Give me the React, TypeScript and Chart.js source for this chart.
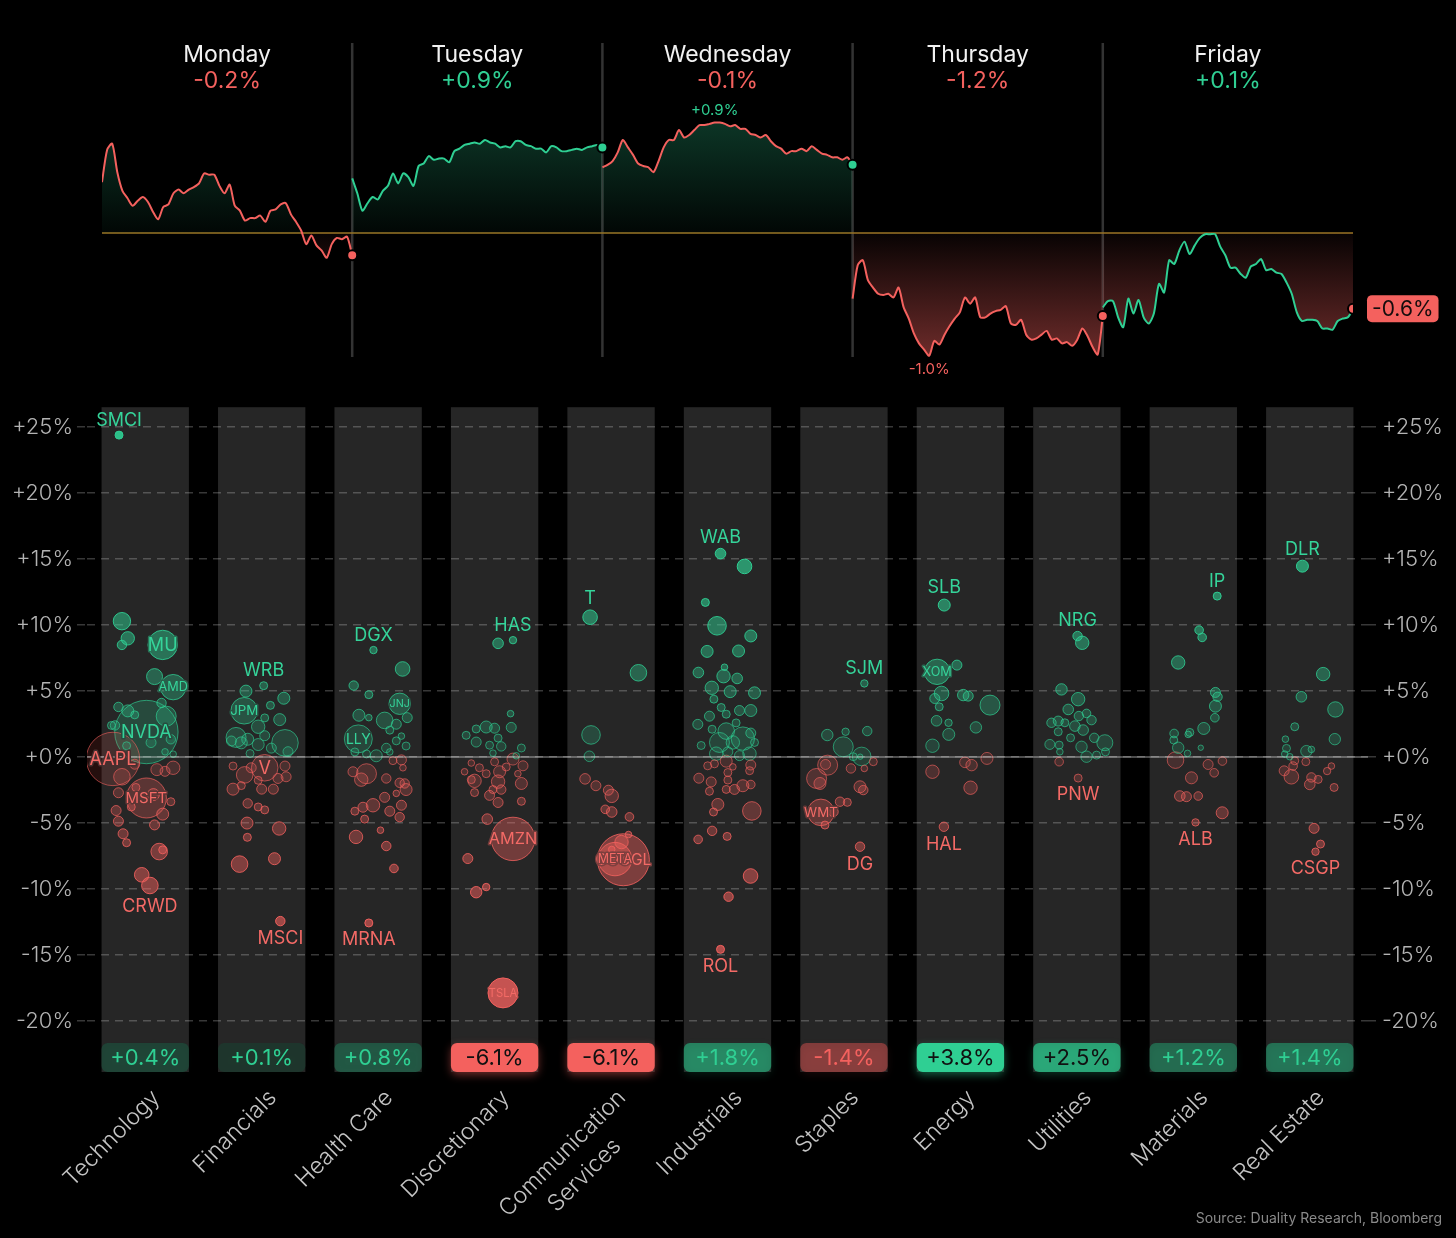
import { useEffect, useRef } from 'react';
import { Chart, registerables } from 'chart.js';

Chart.register(...registerables);

const GREEN = '#2fcf93';
const RED = '#f4615e';
const FONT = 'Inter, "Noto Sans", "DejaVu Sans", sans-serif';

// ---------- weekly index path (cumulative % vs prior close) ----------
const DAYS = ['Monday', 'Tuesday', 'Wednesday', 'Thursday', 'Friday'];
const DAY_CHANGES = [-0.2, 0.9, -0.1, -1.2, 0.1];

const MONDAY = [0.41, 0.67, 0.72, 0.49, 0.34, 0.28, 0.22, 0.26, 0.29, 0.25, 0.17, 0.11, 0.21, 0.23, 0.32, 0.35, 0.32, 0.35, 0.37, 0.40, 0.48, 0.47, 0.47, 0.38, 0.32, 0.39, 0.22, 0.18, 0.10, 0.12, 0.12, 0.14, 0.09, 0.18, 0.19, 0.23, 0.24, 0.15, 0.09, 0.02, -0.09, -0.02, -0.10, -0.14, -0.20, -0.09, -0.04, -0.05, -0.03, -0.18];
const TUESDAY = [0.44, 0.32, 0.18, 0.24, 0.29, 0.27, 0.34, 0.38, 0.48, 0.40, 0.48, 0.45, 0.38, 0.54, 0.56, 0.62, 0.59, 0.60, 0.60, 0.57, 0.66, 0.68, 0.71, 0.72, 0.73, 0.72, 0.75, 0.73, 0.72, 0.69, 0.70, 0.69, 0.74, 0.74, 0.71, 0.70, 0.68, 0.68, 0.65, 0.70, 0.69, 0.66, 0.66, 0.67, 0.68, 0.67, 0.69, 0.70, 0.71, 0.69];
const WEDNESDAY = [0.53, 0.55, 0.58, 0.65, 0.75, 0.69, 0.63, 0.56, 0.54, 0.53, 0.49, 0.58, 0.69, 0.75, 0.75, 0.83, 0.77, 0.79, 0.83, 0.87, 0.87, 0.88, 0.89, 0.89, 0.88, 0.86, 0.87, 0.84, 0.84, 0.80, 0.79, 0.77, 0.79, 0.74, 0.70, 0.68, 0.64, 0.66, 0.66, 0.68, 0.66, 0.70, 0.67, 0.64, 0.63, 0.61, 0.61, 0.59, 0.61, 0.55];
const THURSDAY = [-0.53, -0.26, -0.22, -0.38, -0.44, -0.49, -0.50, -0.49, -0.52, -0.44, -0.60, -0.69, -0.81, -0.89, -0.94, -0.99, -0.87, -0.90, -0.82, -0.75, -0.69, -0.64, -0.52, -0.57, -0.52, -0.68, -0.68, -0.65, -0.63, -0.62, -0.59, -0.73, -0.74, -0.70, -0.82, -0.86, -0.85, -0.82, -0.79, -0.86, -0.85, -0.89, -0.88, -0.91, -0.86, -0.77, -0.83, -0.92, -0.98, -0.67];
const FRIDAY = [-0.60, -0.55, -0.55, -0.68, -0.76, -0.53, -0.65, -0.54, -0.68, -0.73, -0.65, -0.41, -0.48, -0.22, -0.25, -0.14, -0.07, -0.17, -0.10, -0.04, -0.01, -0.01, -0.01, -0.11, -0.18, -0.28, -0.28, -0.33, -0.36, -0.27, -0.25, -0.21, -0.30, -0.29, -0.32, -0.33, -0.40, -0.49, -0.64, -0.71, -0.70, -0.70, -0.71, -0.77, -0.77, -0.78, -0.71, -0.69, -0.68, -0.61];

// ---------- sectors ----------
const SECTORS = ['Technology', 'Financials', 'Health Care', 'Discretionary', 'Communication\nServices', 'Industrials', 'Staples', 'Energy', 'Utilities', 'Materials', 'Real Estate'];
const SECTOR_CHANGES = [0.4, 0.1, 0.8, -6.1, -6.1, 1.8, -1.4, 3.8, 2.5, 1.2, 1.4];
const Y_TICKS = [-20, -15, -10, -5, 0, 5, 10, 15, 20, 25];

// [jitter within column, weekly % change, bubble radius, ticker, label placement]
type Bubble = [number, number, number, string?, string?];

const TECHNOLOGY: Bubble[] = [
  [-0.225, 24.4, 4, 'SMCI', 'up'], [-0.2, 10.3, 8.7], [-0.15, 9.0, 6.7], [-0.2, 8.5, 4.7],
  [0.15, 8.5, 14.7, 'MU', 'in'], [0.08, 6.1, 8], [0.24, 5.3, 12.7, 'AMD', 'in'], [-0.23, 3.8, 4.7],
  [-0.15, 3.5, 6], [-0.09, 3.2, 4], [0.14, 4.1, 4.7], [0.18, 3.1, 10], [-0.26, 2.4, 4.7],
  [-0.29, 2.4, 4], [0.01, 1.9, 31.7, 'NVDA', 'in'], [0.05, 1.1, 5], [0.22, 1.35, 4.7],
  [-0.16, 0.86, 4], [0.17, 0.4, 3.3], [0.24, 0.22, 3.3], [-0.277, -0.14, 26.7, 'AAPL', 'in'],
  [-0.09, -0.54, 5], [0.1, -0.95, 6], [0.17, -1.08, 5], [0.24, -0.81, 6.7], [-0.2, -1.49, 8.3],
  [-0.08, -2.3, 4], [0.01, -3.1, 20, 'MSFT', 'in'], [-0.23, -2.7, 5], [0.07, -2.84, 6],
  [-0.12, -3.78, 4], [0.22, -3.38, 4], [-0.25, -4.05, 5], [0.15, -4.32, 6], [0.08, -5.14, 5],
  [-0.23, -4.86, 5], [-0.19, -5.81, 5], [-0.16, -6.49, 4], [0.12, -7.16, 8.3], [0.15, -7.03, 4],
  [-0.03, -8.92, 7.3], [0.04, -9.73, 8.3, 'CRWD', 'down'],
];
const FINANCIALS: Bubble[] = [
  [0.017, 5.41, 4, 'WRB', 'up'], [-0.135, 5.0, 6], [0.19, 4.46, 6], [-0.15, 3.51, 13.3, 'JPM', 'in'],
  [0.075, 3.92, 4], [0.026, 2.97, 4], [0.155, 2.84, 6], [-0.03, 2.3, 6.7], [-0.22, 1.49, 10],
  [-0.12, 1.35, 6], [0.026, 1.62, 5], [0.2, 1.08, 13.3], [-0.175, 1.08, 6], [-0.26, 1.22, 5],
  [-0.03, 0.95, 6], [0.083, 0.68, 5], [-0.1, 0.27, 4], [0.226, 0.41, 5], [0.026, -0.81, 13.3, 'V', 'in'],
  [-0.246, -0.68, 4], [-0.146, -1.35, 8.3], [-0.09, -0.81, 5], [0.2, -0.68, 5], [0.21, -1.49, 5],
  [0.14, -1.62, 5], [-0.03, -1.76, 4], [-0.246, -2.43, 6], [-0.175, -2.16, 4], [0.0, -2.43, 5],
  [0.1, -2.43, 5], [-0.12, -3.51, 4.7], [-0.03, -3.78, 4], [0.026, -4.0, 4], [-0.126, -5.0, 6],
  [-0.123, -6.08, 4], [0.15, -5.41, 6.7], [-0.19, -8.11, 8.3], [0.11, -7.7, 6], [0.16, -12.43, 4.7, 'MSCI', 'down'],
];
const HEALTH_CARE: Bubble[] = [
  [-0.04, 8.11, 3.7, 'DGX', 'up'], [0.21, 6.68, 7.3], [-0.21, 5.42, 4.7], [-0.08, 4.73, 4],
  [0.185, 4.04, 10.7, 'JNJ', 'in'], [0.056, 2.78, 8.3], [-0.165, 3.17, 6], [-0.08, 2.99, 3.3],
  [-0.17, 1.38, 14, 'LLY', 'in'], [0.25, 2.99, 5], [0.156, 2.49, 5], [0.1, 2.04, 4], [0.2, 1.59, 3.3],
  [0.156, 1.23, 4], [0.24, 0.84, 4], [0.07, 0.69, 4.7], [-0.016, 0.1, 6], [-0.1, 0.24, 4], [-0.2, 0.39, 4],
  [0.1, 0.39, 3.3], [-0.216, -1.11, 5], [-0.1, -1.26, 10], [-0.145, -1.71, 6.7], [0.2, -0.21, 5],
  [0.213, -0.81, 3.3], [0.127, -0.27, 4], [0.07, -1.62, 4.7], [0.185, -1.95, 4.7], [0.24, -2.46, 6],
  [0.228, -2.0, 4.7], [0.156, -2.75, 3.3], [0.056, -3.05, 5], [-0.044, -3.65, 6.7], [-0.13, -3.8, 5],
  [-0.2, -4.1, 4], [0.1, -4.1, 5], [0.2, -3.65, 5], [0.185, -4.55, 4.7], [-0.116, -4.7, 4],
  [0.02, -5.54, 3.3], [-0.19, -6.05, 6.7], [0.07, -6.74, 4.7], [0.136, -8.44, 4.3], [-0.08, -12.57, 4, 'MRNA', 'down'],
];
const DISCRETIONARY: Bubble[] = [
  [0.03, 8.62, 5.3], [0.158, 8.86, 3.7, 'HAS', 'up'], [0.137, 3.29, 3.3], [-0.244, 1.65, 4],
  [-0.158, 2.13, 4], [-0.072, 2.28, 6], [0.0, 2.19, 5], [-0.158, 1.14, 5], [0.03, 1.44, 4],
  [0.143, 2.25, 5], [-0.043, 0.9, 4], [0.057, 0.81, 4.7], [0.23, 0.69, 4], [0.186, 0.1, 3.3],
  [-0.014, 0.3, 3.3], [-0.2, -0.45, 3.3], [-0.258, -1.11, 3.3], [-0.13, -0.81, 4], [-0.172, -1.8, 6.7],
  [-0.2, -1.71, 4], [-0.072, -1.26, 4], [0.0, -0.36, 4], [0.043, -1.11, 6], [0.1, -0.75, 4],
  [0.158, -0.15, 6], [0.244, -0.66, 5], [0.2, -1.26, 3.3], [0.23, -2.0, 6], [0.03, -1.86, 6.7],
  [0.057, -2.46, 4.7], [-0.043, -2.9, 5], [-0.172, -2.69, 4], [-0.014, -2.46, 4], [0.03, -3.44, 5],
  [0.23, -3.35, 4], [-0.063, -4.7, 5.3], [0.158, -6.2, 21.7, 'AMZN', 'in'], [-0.23, -7.69, 5],
  [-0.158, -10.24, 5.7], [-0.072, -9.85, 3.7], [0.072, -17.87, 15, 'TSLA', 'in'],
];
const COMMUNICATION: Bubble[] = [
  [-0.18, 10.6, 7.3, 'T', 'up'], [0.235, 6.39, 8.3], [-0.172, 1.68, 9.3], [-0.186, 0.06, 5.3],
  [-0.223, -1.65, 5.3], [-0.13, -2.17, 5], [-0.023, -2.51, 5], [0.006, -2.94, 6.7], [-0.05, -3.96, 4.3],
  [0.006, -4.16, 5.3], [0.158, -4.53, 4.3], [0.106, -7.78, 26, 'GOOGL', 'in'], [0.034, -7.73, 16.7, 'META', 'in'],
  [0.09, -6.44, 6.7], [0.15, -5.87, 3.3], [0.006, -7.0, 3.3],
];
const INDUSTRIALS: Bubble[] = [
  [-0.06, 15.42, 5.3, 'WAB', 'up'], [0.146, 14.45, 7.3], [-0.19, 11.72, 4], [-0.09, 9.95, 9.3],
  [0.2, 9.18, 6], [-0.175, 8.01, 6], [0.095, 8.04, 6], [-0.25, 6.41, 5.3], [-0.034, 6.13, 6.7],
  [0.083, 5.96, 5.3], [-0.026, 6.81, 3.3], [-0.135, 5.25, 6.7], [0.023, 4.96, 6], [0.232, 4.87, 6],
  [-0.117, 4.39, 4], [-0.054, 3.76, 4], [0.103, 3.53, 5], [0.2, 3.53, 6], [-0.155, 3.1, 5],
  [-0.011, 3.25, 4], [0.074, 2.59, 4], [-0.255, 2.48, 5], [-0.132, 2.11, 4], [-0.011, 1.97, 8.3],
  [0.132, 1.4, 11.7], [-0.069, 1.11, 10], [0.046, 1.11, 6.7], [0.2, 1.82, 5], [0.232, 1.11, 4],
  [-0.226, 0.88, 4], [-0.097, 0.26, 6.7], [0.003, 0.4, 5], [0.189, 0.26, 6.7], [0.103, 0.11, 5],
  [-0.17, -0.66, 4], [-0.112, -0.51, 4], [-0.011, -0.31, 6], [0.2, -0.6, 5], [0.19, -1.03, 4],
  [-0.246, -1.6, 5], [-0.14, -1.88, 5], [-0.155, -2.59, 4], [0.003, -1.17, 4], [0.003, -1.74, 4],
  [0.046, -0.74, 3.3], [-0.011, -2.45, 4], [0.06, -2.45, 5], [0.132, -2.17, 6], [0.2, -2.08, 4.3],
  [-0.083, -3.59, 6], [-0.12, -4.16, 4], [0.209, -4.08, 9.3], [-0.132, -5.59, 4.7], [-0.003, -6.01, 4],
  [-0.252, -6.24, 4.3], [0.198, -9.01, 7.3], [0.009, -10.58, 4.7], [-0.06, -14.57, 4, 'ROL', 'down'],
];
const STAPLES: Bubble[] = [
  [0.175, 5.58, 3.7, 'SJM', 'up'], [-0.143, 1.67, 5.7], [0.014, 1.92, 3.7], [0.2, 1.97, 4.7],
  [-0.006, 0.78, 10], [0.152, 0.05, 9.3], [0.08, 0.03, 4], [0.14, 0.03, 2.7], [0.252, -0.35, 4],
  [-0.14, -0.61, 10], [-0.158, -0.56, 5], [-0.235, -1.62, 10], [-0.206, -2.0, 6], [0.06, -0.86, 4.7],
  [0.175, -0.86, 3.3], [0.138, -2.25, 6], [0.166, -2.5, 4.7], [-0.034, -3.38, 4.7], [0.029, -3.43, 4],
  [-0.198, -4.19, 13.3, 'WMT', 'in'], [-0.092, -4.14, 5], [-0.163, -5.15, 4], [0.138, -6.79, 4.7, 'DG', 'down'],
];
const ENERGY: Bubble[] = [
  [-0.139, 11.52, 6, 'SLB', 'up'], [-0.2, 6.46, 12.7, 'XOM', 'in'], [-0.03, 6.97, 5], [-0.162, 4.82, 7.3],
  [-0.22, 4.44, 5], [0.024, 4.7, 5.7], [0.067, 4.62, 5], [0.254, 3.94, 10], [-0.182, 3.81, 4],
  [-0.205, 2.75, 5.3], [-0.102, 2.6, 3.7], [-0.1, 1.72, 6], [0.133, 2.25, 5.7], [-0.24, 0.86, 6.7],
  [-0.24, -1.11, 6.7], [0.039, -0.4, 5.3], [0.096, -0.61, 5.7], [0.228, -0.1, 6], [0.087, -2.32, 6.7],
  [-0.142, -5.28, 4.7, 'HAL', 'down'],
];
const UTILITIES: Bubble[] = [
  [0.006, 9.17, 4.7, 'NRG', 'up'], [0.046, 8.66, 6.7], [-0.132, 5.13, 5.7], [0.011, 4.39, 6.7],
  [-0.074, 3.61, 5.3], [0.083, 3.31, 4.3], [0.017, 3.11, 4.7], [0.126, 2.8, 4.7], [-0.218, 2.6, 4.7],
  [-0.16, 2.73, 5], [-0.103, 2.6, 4], [-0.017, 2.35, 5.3], [0.054, 2.05, 5.3], [-0.16, 1.92, 4],
  [-0.054, 1.46, 4], [0.149, 1.46, 4.7], [0.24, 1.09, 8], [-0.232, 0.96, 5], [-0.152, 0.91, 4],
  [0.04, 0.78, 5.7], [0.169, 0.15, 4], [0.083, 0.03, 5.7], [0.246, 0.4, 4], [-0.146, 0.4, 3.3],
  [-0.152, -0.35, 4.3], [0.011, -1.59, 4, 'PNW', 'down'],
];
const MATERIALS: Bubble[] = [
  [0.205, 12.2, 4, 'IP', 'up'], [0.05, 9.62, 4.3], [0.076, 9.07, 4.3], [-0.13, 7.17, 6.7],
  [0.19, 4.9, 5], [0.208, 4.57, 4.7], [0.19, 3.86, 6], [0.185, 2.98, 4.3], [0.09, 2.17, 6],
  [-0.03, 1.87, 4], [-0.044, 1.72, 3.3], [-0.165, 1.79, 4.3], [-0.168, 1.29, 4], [-0.13, 0.71, 5.7],
  [-0.05, 0.28, 3.3], [0.064, 0.71, 2.7], [-0.153, -0.23, 8.3], [0.127, -0.56, 5], [0.25, -0.3, 4.3],
  [0.179, -1.19, 4.3], [-0.016, -1.57, 6], [-0.116, -2.95, 5.3], [-0.059, -3.0, 5], [0.042, -2.95, 4.3],
  [0.248, -4.22, 6], [0.019, -4.95, 3.7, 'ALB', 'down'],
];
const REAL_ESTATE: Bubble[] = [
  [-0.063, 14.47, 6, 'DLR', 'up'], [0.115, 6.29, 6.7], [-0.072, 4.57, 5.3], [0.22, 3.61, 7.7],
  [-0.129, 2.3, 4], [0.215, 1.36, 5.7], [-0.209, 1.36, 3.3], [-0.2, 0.66, 4], [-0.215, 0.23, 3.3],
  [-0.172, 0.03, 3.3], [-0.029, 0.45, 5.7], [0.014, 0.58, 3.3], [-0.129, -0.28, 4], [-0.143, -0.68, 4.3],
  [-0.22, -1.04, 5], [-0.158, -1.49, 7.3], [-0.034, -0.35, 4], [0.014, -1.54, 4.7], [0.072, -1.69, 4],
  [0.0, -2.07, 5.3], [0.149, -1.06, 3.7], [0.186, -0.68, 3.3], [0.209, -2.3, 4], [0.037, -5.4, 5],
  [0.092, -6.59, 4], [0.049, -7.17, 3.7, 'CSGP', 'down'],
];
const SECTOR_BUBBLES = [TECHNOLOGY, FINANCIALS, HEALTH_CARE, DISCRETIONARY, COMMUNICATION, INDUSTRIALS, STAPLES, ENERGY, UTILITIES, MATERIALS, REAL_ESTATE];

// ---------- helpers ----------
function rgba(hex: string, a: number) {
  const n = parseInt(hex.slice(1), 16);
  return `rgba(${(n >> 16) & 255},${(n >> 8) & 255},${n & 255},${a})`;
}
function blend(hex: string, a: number, bg = 38) {
  const n = parseInt(hex.slice(1), 16);
  const c = [(n >> 16) & 255, (n >> 8) & 255, n & 255].map((v) => Math.round(v * a + bg * (1 - a)));
  return `rgb(${c[0]},${c[1]},${c[2]})`;
}
const pct = (v: number, d = 1) => (v >= 0 ? '+' : '') + v.toFixed(d) + '%';
const signColor = (v: number) => (v >= 0 ? GREEN : RED);
const fillAlpha = (v: number) => Math.min(0.9, 0.15 + Math.abs(v) * 0.035);
const strokeAlpha = (v: number) => Math.min(1, 0.6 + Math.abs(v) * 0.03);

// ---------- top chart ----------
function topConfig(): any {
  const dayData = [MONDAY, TUESDAY, WEDNESDAY, THURSDAY, FRIDAY];
  const areaFill = (c: any) => {
    const chart = c.chart;
    const a = chart.chartArea;
    if (!a || !chart.scales.y) return 'rgba(0,0,0,0)';
    const y0 = chart.scales.y.getPixelForValue(0);
    const f = Math.min(1, Math.max(0, (y0 - a.top) / (a.bottom - a.top)));
    const g = chart.ctx.createLinearGradient(0, a.top, 0, a.bottom);
    g.addColorStop(0, rgba(GREEN, 0.42));
    g.addColorStop(f, rgba(GREEN, 0.03));
    g.addColorStop(f, rgba(RED, 0.03));
    g.addColorStop(1, rgba(RED, 0.45));
    return g;
  };
  const datasets = dayData.map((vals, d) => ({
    data: vals.map((v, i) => ({ x: d + i / (vals.length - 1), y: v })),
    borderColor: signColor(DAY_CHANGES[d]),
    borderWidth: 2,
    tension: 0.25,
    fill: 'origin',
    backgroundColor: areaFill,
    pointRadius: (c: any) => (c.dataIndex === vals.length - 1 ? 5 : 0),
    pointHoverRadius: 0,
    pointBackgroundColor: (c: any) => signColor(c.raw ? c.raw.y : 0),
    pointBorderColor: '#000',
    pointBorderWidth: 2,
  }));

  const plugin = {
    id: 'topDecor',
    beforeDatasetsDraw(chart: any) {
      const { ctx, chartArea: a, scales } = chart;
      const x = scales.x, y = scales.y;
      ctx.save();
      ctx.strokeStyle = 'rgba(255,255,255,0.2)';
      ctx.lineWidth = 2.5;
      for (let d = 1; d < DAYS.length; d++) {
        const px = x.getPixelForValue(d);
        ctx.beginPath();
        ctx.moveTo(px, a.top);
        ctx.lineTo(px, a.bottom);
        ctx.stroke();
      }
      const y0 = y.getPixelForValue(0);
      ctx.strokeStyle = '#9a7424';
      ctx.lineWidth = 1.5;
      ctx.beginPath();
      ctx.moveTo(a.left, y0);
      ctx.lineTo(a.right, y0);
      ctx.stroke();
      ctx.restore();
    },
    afterDraw(chart: any) {
      const { ctx, scales } = chart;
      const x = scales.x, y = scales.y;
      ctx.save();
      ctx.textAlign = 'center';
      ctx.textBaseline = 'middle';
      DAYS.forEach((day, d) => {
        const cx = x.getPixelForValue(d + 0.5);
        ctx.font = `23px ${FONT}`;
        ctx.fillStyle = '#f2f2f2';
        ctx.fillText(day, cx, 55);
        ctx.fillStyle = signColor(DAY_CHANGES[d]);
        ctx.fillText(pct(DAY_CHANGES[d]), cx, 81);
      });
      // weekly extremes
      let maxV = -Infinity, maxX = 0, minV = Infinity, minX = 0;
      dayData.forEach((vals, d) => vals.forEach((v, i) => {
        const xv = d + i / (vals.length - 1);
        if (v > maxV) { maxV = v; maxX = xv; }
        if (v < minV) { minV = v; minX = xv; }
      }));
      ctx.font = `15px ${FONT}`;
      ctx.fillStyle = signColor(maxV);
      ctx.fillText(pct(maxV), x.getPixelForValue(maxX), y.getPixelForValue(maxV) - 12);
      ctx.fillStyle = signColor(minV);
      ctx.fillText(pct(minV), x.getPixelForValue(minX), y.getPixelForValue(minV) + 14);
      // end label
      const last = FRIDAY[FRIDAY.length - 1];
      const px = x.getPixelForValue(DAYS.length);
      const py = y.getPixelForValue(last);
      ctx.font = `21px ${FONT}`;
      const label = pct(last);
      const w = ctx.measureText(label).width + 10;
      ctx.fillStyle = signColor(last);
      ctx.beginPath();
      (ctx as any).roundRect(px + 14, py - 13.5, w, 27, 5);
      ctx.fill();
      ctx.fillStyle = '#140c0c';
      ctx.fillText(label, px + 14 + w / 2, py + 1);
      ctx.restore();
    },
  };

  return {
    type: 'line',
    data: { datasets },
    options: {
      responsive: false,
      animation: false,
      events: [],
      layout: { autoPadding: false, padding: { left: 102, right: 103, top: 43, bottom: 33 } },
      plugins: { legend: { display: false }, tooltip: { enabled: false } },
      scales: {
        x: { type: 'linear', min: 0, max: DAYS.length, display: false },
        y: { type: 'linear', min: -1.0, max: 1.532, display: false },
      },
    },
    plugins: [plugin],
  };
}

// ---------- bottom chart ----------
function bottomConfig(): any {
  const labeled: { si: number; b: Bubble }[] = [];
  const datasets = SECTOR_BUBBLES.map((arr, si) => {
    const sorted = [...arr].sort((p, q) => q[2] - p[2]);
    sorted.forEach((b) => { if (b[3]) labeled.push({ si, b }); });
    return {
      type: 'bubble',
      data: sorted.map((b) => ({ x: si + b[0], y: b[1], r: b[2] })),
      backgroundColor: (c: any) => { const v = c.raw ? c.raw.y : 0; return rgba(signColor(v), fillAlpha(v)); },
      borderColor: (c: any) => { const v = c.raw ? c.raw.y : 0; return rgba(signColor(v), strokeAlpha(v)); },
      borderWidth: 1,
      hoverRadius: 0,
      hoverBorderWidth: 1,
    };
  });
  labeled.sort((p, q) => q.b[2] - p.b[2]);

  const tickFont = { family: FONT, size: 22, weight: 300 as any };
  const gridColor = 'rgba(255,255,255,0.22)';
  const setTicks = (scale: any) => { scale.ticks = Y_TICKS.map((v) => ({ value: v })); };
  const fmt = (v: any) => (Number(v) >= 0 ? '+' : '') + v + '%';

  const plugin = {
    id: 'bottomDecor',
    beforeDraw(chart: any) {
      const { ctx, chartArea: a, scales } = chart;
      const x = scales.x;
      const half = (x.getPixelForValue(1) - x.getPixelForValue(0)) * 0.375;
      ctx.save();
      ctx.fillStyle = '#262626';
      SECTORS.forEach((_, i) => {
        const cx = x.getPixelForValue(i);
        ctx.fillRect(cx - half, a.top, half * 2, a.bottom - a.top);
      });
      ctx.restore();
    },
    afterDatasetsDraw(chart: any) {
      const { ctx, chartArea: a, scales } = chart;
      const x = scales.x, y = scales.y;
      ctx.save();
      const y0 = y.getPixelForValue(0);
      ctx.strokeStyle = 'rgba(255,255,255,0.3)';
      ctx.lineWidth = 2;
      ctx.beginPath();
      ctx.moveTo(a.left, y0);
      ctx.lineTo(a.right, y0);
      ctx.stroke();
      ctx.textAlign = 'center';
      ctx.textBaseline = 'middle';
      labeled.forEach(({ si, b }) => {
        const [dx, v, r, name, pos] = b;
        const px = x.getPixelForValue(si + dx);
        const py = y.getPixelForValue(v);
        const col = v >= 0 ? '#35d49a' : '#f46a66';
        if (pos === 'in') {
          const size = Math.min(18, (2 * r * 0.9) / ((name as string).length * 0.6));
          ctx.font = `${size.toFixed(1)}px ${FONT}`;
          ctx.lineWidth = 3;
          ctx.lineJoin = 'round';
          ctx.strokeStyle = blend(signColor(v), fillAlpha(v));
          ctx.strokeText(name as string, px, py + 0.5);
          ctx.fillStyle = col;
          ctx.fillText(name as string, px, py + 0.5);
        } else {
          ctx.font = `18px ${FONT}`;
          ctx.fillStyle = col;
          const ly = pos === 'up' ? py - r - 11 : py + r + 13;
          ctx.fillText(name as string, px, ly);
        }
      });
      ctx.restore();
    },
    afterDraw(chart: any) {
      const { ctx, chartArea: a, scales } = chart;
      const x = scales.x;
      const half = (x.getPixelForValue(1) - x.getPixelForValue(0)) * 0.375;
      ctx.save();
      // sector change boxes
      SECTOR_CHANGES.forEach((v, i) => {
        const cx = x.getPixelForValue(i);
        const alpha = Math.min(1, 0.12 + Math.abs(v) / 4.2);
        const top = a.bottom - 29;
        ctx.fillStyle = '#1c1c1c';
        ctx.beginPath();
        (ctx as any).roundRect(cx - half, top, half * 2, 29, 6);
        ctx.fill();
        ctx.shadowColor = rgba(signColor(v), alpha * 0.45);
        ctx.shadowBlur = 8;
        ctx.shadowOffsetY = 3;
        ctx.fillStyle = rgba(signColor(v), alpha);
        ctx.beginPath();
        (ctx as any).roundRect(cx - half, top, half * 2, 29, 6);
        ctx.fill();
        ctx.shadowColor = 'transparent';
        ctx.shadowBlur = 0;
        ctx.shadowOffsetY = 0;
        ctx.font = `22px ${FONT}`;
        ctx.textAlign = 'center';
        ctx.textBaseline = 'middle';
        ctx.fillStyle = Math.abs(v) >= 2 ? '#111111' : signColor(v);
        ctx.fillText(pct(v), cx, top + 15.5);
      });
      // rotated category labels
      ctx.font = `300 23px ${FONT}`;
      ctx.fillStyle = '#c4c4c4';
      ctx.textAlign = 'center';
      ctx.textBaseline = 'middle';
      SECTORS.forEach((name, i) => {
        const lines = name.split('\n');
        const maxW = Math.max(...lines.map((l) => ctx.measureText(l).width));
        ctx.save();
        ctx.translate(x.getPixelForValue(i) + 11, a.bottom + 22);
        ctx.rotate(-Math.PI / 4);
        lines.forEach((l, j) => ctx.fillText(l, -maxW / 2, j * 31));
        ctx.restore();
      });
      ctx.restore();
    },
  };

  return {
    type: 'bubble',
    data: { datasets },
    options: {
      responsive: false,
      animation: false,
      events: [],
      layout: { autoPadding: false, padding: { left: 0, right: 0, top: 17, bottom: 166 } },
      plugins: { legend: { display: false }, tooltip: { enabled: false } },
      scales: {
        x: { type: 'linear', min: -0.5, max: SECTORS.length - 0.5, display: false },
        y: {
          type: 'linear', position: 'left', min: -23.864, max: 26.515,
          afterBuildTicks: setTicks,
          afterFit: (s: any) => { s.width = 87; },
          ticks: { callback: fmt, color: '#b3b3b3', font: tickFont, padding: 4 },
          grid: { color: gridColor, lineWidth: 1.5, drawTicks: true, tickLength: 10, tickBorderDash: [8, 6] },
          border: { display: false, dash: [8, 6] },
        },
        y2: {
          type: 'linear', position: 'right', min: -23.864, max: 26.515,
          afterBuildTicks: setTicks,
          afterFit: (s: any) => { s.width = 88; },
          ticks: { callback: fmt, color: '#b3b3b3', font: tickFont, padding: 4 },
          grid: { color: gridColor, lineWidth: 1.5, drawOnChartArea: false, drawTicks: true, tickLength: 10, tickBorderDash: [8, 6] },
          border: { display: false, dash: [8, 6] },
        },
      },
    },
    plugins: [plugin],
  };
}

export default function App() {
  const topRef = useRef<HTMLCanvasElement>(null);
  const botRef = useRef<HTMLCanvasElement>(null);
  useEffect(() => {
    document.body.style.margin = '0';
    document.body.style.background = '#000';
    const top = new Chart(topRef.current as HTMLCanvasElement, topConfig());
    const bot = new Chart(botRef.current as HTMLCanvasElement, bottomConfig());
    return () => { top.destroy(); bot.destroy(); };
  }, []);
  return (
    <div style={{ position: 'fixed', left: 0, top: 0, width: 1456, height: 1238, background: '#000', overflow: 'hidden', fontFamily: FONT }}>
      <canvas ref={topRef} width={1456} height={390} style={{ position: 'absolute', left: 0, top: 0, width: 1456, height: 390 }} />
      <canvas ref={botRef} width={1456} height={848} style={{ position: 'absolute', left: 0, top: 390, width: 1456, height: 848 }} />
      <div style={{ position: 'absolute', right: 14, top: 1208, color: '#8a8a8a', fontSize: 14, lineHeight: '20px' }}>
        Source: Duality Research, Bloomberg
      </div>
    </div>
  );
}
